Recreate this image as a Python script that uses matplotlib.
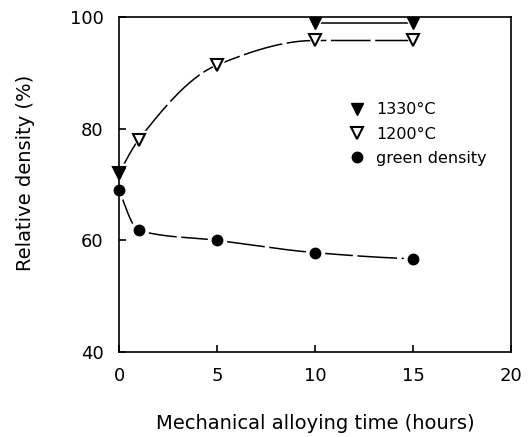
import matplotlib
matplotlib.use("Agg")
import matplotlib.pyplot as plt
import numpy as np

# data
time_1330 = [0, 10, 15]
dens_1330 = [72, 99, 99]
time_1200 = [0, 1, 5, 10, 15]
dens_1200 = [72, 78, 91.4, 95.8, 95.8]
time_green = [0, 1, 5, 10, 15]
dens_green = [69, 61.8, 60, 57.8, 56.7]


def pchip(x, y, xs):
    # shape preserving cubic, only used to draw the smooth guide line
    x = np.asarray(x, float)
    y = np.asarray(y, float)
    h = np.diff(x)
    d = np.diff(y) / h
    n = len(x)
    m = np.zeros(n)
    for k in range(1, n - 1):
        if d[k - 1] * d[k] > 0:
            w1 = 2 * h[k] + h[k - 1]
            w2 = h[k] + 2 * h[k - 1]
            m[k] = (w1 + w2) / (w1 / d[k - 1] + w2 / d[k])
    m[0] = ((2 * h[0] + h[1]) * d[0] - h[0] * d[1]) / (h[0] + h[1])
    if np.sign(m[0]) != np.sign(d[0]):
        m[0] = 0
    m[-1] = ((2 * h[-1] + h[-2]) * d[-1] - h[-1] * d[-2]) / (h[-1] + h[-2])
    if np.sign(m[-1]) != np.sign(d[-1]):
        m[-1] = 0
    ys = np.zeros_like(xs)
    for i, xv in enumerate(xs):
        k = min(max(np.searchsorted(x, xv) - 1, 0), n - 2)
        t = (xv - x[k]) / h[k]
        h00 = 2 * t**3 - 3 * t**2 + 1
        h10 = t**3 - 2 * t**2 + t
        h01 = -2 * t**3 + 3 * t**2
        h11 = t**3 - t**2
        ys[i] = h00 * y[k] + h10 * h[k] * m[k] + h01 * y[k + 1] + h11 * h[k] * m[k + 1]
    return ys


fig = plt.figure(figsize=(5.29, 4.37), dpi=100)
ax = fig.add_axes([0.225, 0.1945, 0.741, 0.7665])

xs = np.linspace(0, 15, 300)
ax.plot(xs, pchip(time_1200, dens_1200, xs), color="black", lw=1.1,
        dashes=(26, 3), zorder=1)
ax.plot(xs, pchip(time_green, dens_green, xs), color="black", lw=1.1,
        dashes=(26, 3), zorder=1)
ax.plot(time_1330[1:], dens_1330[1:], color="black", lw=1.1, zorder=1)

# white halos so the lines stop short of the markers
for xx, yy, mk in [(time_1330, dens_1330, "v"), (time_1200, dens_1200, "v"),
                   (time_green, dens_green, "o")]:
    ax.plot(xx, yy, ls="none", marker=mk, ms=13, color="white", mec="white",
            zorder=2, clip_on=False)

ax.plot(time_1200, dens_1200, ls="none", marker="v", ms=8, mfc="white",
        mec="black", mew=1.5, zorder=3, clip_on=False, label="1200°C")
ax.plot(time_1330, dens_1330, ls="none", marker="v", ms=8, color="black",
        zorder=4, clip_on=False, label="1330°C")
ax.plot(time_green, dens_green, ls="none", marker="o", ms=7.5, color="black",
        zorder=4, clip_on=False, label="green density")

h, l = ax.get_legend_handles_labels()
order = [1, 0, 2]
ax.legend([h[i] for i in order], [l[i] for i in order], frameon=False,
          loc="upper left", bbox_to_anchor=(0.574, 0.745), fontsize=11.5,
          handlelength=1.6, handletextpad=0.4, labelspacing=0.58,
          borderaxespad=0, borderpad=0)

ax.set_xlim(0, 20)
ax.set_ylim(40, 100)
ax.set_xticks([0, 5, 10, 15, 20])
ax.set_yticks([40, 60, 80, 100])
ax.tick_params(direction="in", length=5, width=1.2, labelsize=13, pad=11)
for s in ax.spines.values():
    s.set_linewidth(1.2)

ax.set_xlabel("Mechanical alloying time (hours)", fontsize=14)
ax.set_ylabel("Relative density (%)", fontsize=14)
ax.xaxis.set_label_coords(0.5, -0.185)
ax.yaxis.set_label_coords(-0.214, 0.534)

fig.savefig("out.png", dpi=100)
